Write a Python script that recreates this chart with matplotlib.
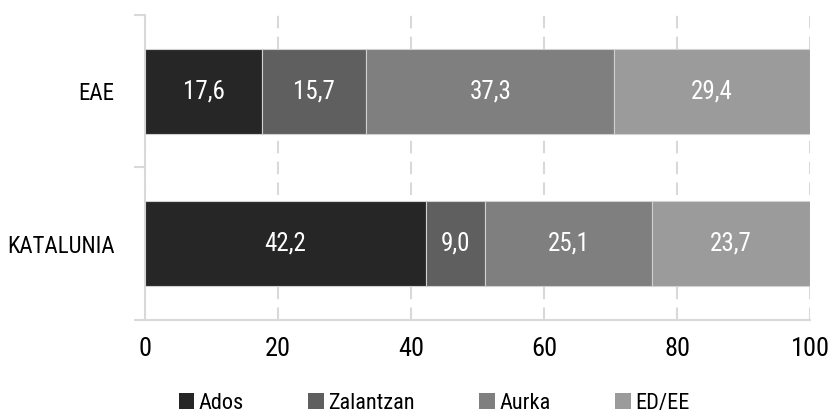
import matplotlib
matplotlib.use("Agg")
import matplotlib.pyplot as plt
from matplotlib.patches import Patch

# data
regions = ["KATALUNIA", "EAE"]
series = ["Ados", "Zalantzan", "Aurka", "ED/EE"]
ados = [42.2, 17.6]
zalantzan = [9.0, 15.7]
aurka = [25.1, 37.3]
ed_ee = [23.7, 29.4]
colors = ["#262626", "#5f5f5f", "#7f7f7f", "#9b9b9b"]
xticks = [0, 20, 40, 60, 80, 100]

plt.rcParams["font.family"] = ["DejaVu Sans Condensed", "Roboto Condensed",
                               "Liberation Sans Narrow", "Roboto", "DejaVu Sans"]

fig = plt.figure(figsize=(8.36, 4.19), dpi=100)
ax = fig.add_axes([145 / 836, 1 - 320 / 419, 665 / 836, 305 / 419])

ypos = [0.0, 1.0]
left = [0.0, 0.0]
for name, vals, col in zip(series, [ados, zalantzan, aurka, ed_ee], colors):
    ax.barh(ypos, vals, left=left, height=0.56, color=col,
            edgecolor="#d0d0d0", linewidth=0.8, zorder=3)
    for y, l, v in zip(ypos, left, vals):
        ax.text(l + v / 2, y, f"{v:.1f}".replace(".", ","), ha="center",
                va="center", color="white", fontsize=18, zorder=4)
    left = [a + b for a, b in zip(left, vals)]

ax.set_xlim(0, 100)
ax.set_ylim(-0.5, 1.5)
ax.set_xticks(xticks)
ax.set_xticklabels([str(t) for t in xticks], fontsize=19)
ax.set_yticks(ypos)
ax.set_yticklabels(regions, fontsize=16.5)
ax.tick_params(axis="y", length=0, pad=22)
ax.tick_params(axis="x", length=0, pad=12)

# boundary ticks (Excel style)
ax.set_yticks([-0.5, 0.5, 1.5], minor=True)
ax.set_xticks(xticks, minor=True)
ax.tick_params(which="minor", length=8, color="#d9d9d9", width=1.5)

ax.grid(axis="x", which="major", color="#d9d9d9", linestyle=(0, (6, 4)),
        linewidth=1.5, zorder=0)
for side in ["top", "right"]:
    ax.spines[side].set_visible(False)
for side in ["left", "bottom"]:
    ax.spines[side].set_color("#d9d9d9")
    ax.spines[side].set_linewidth(1.5)

handles = [Patch(facecolor=c, edgecolor="none") for c in colors]
fig.legend(handles, series, loc="center", bbox_to_anchor=(434 / 836, 1 - 403 / 419),
           ncol=4, frameon=False, fontsize=16, handlelength=0.7,
           handleheight=0.7, handletextpad=0.2, columnspacing=2.9)

fig.savefig("out.png", dpi=100)
